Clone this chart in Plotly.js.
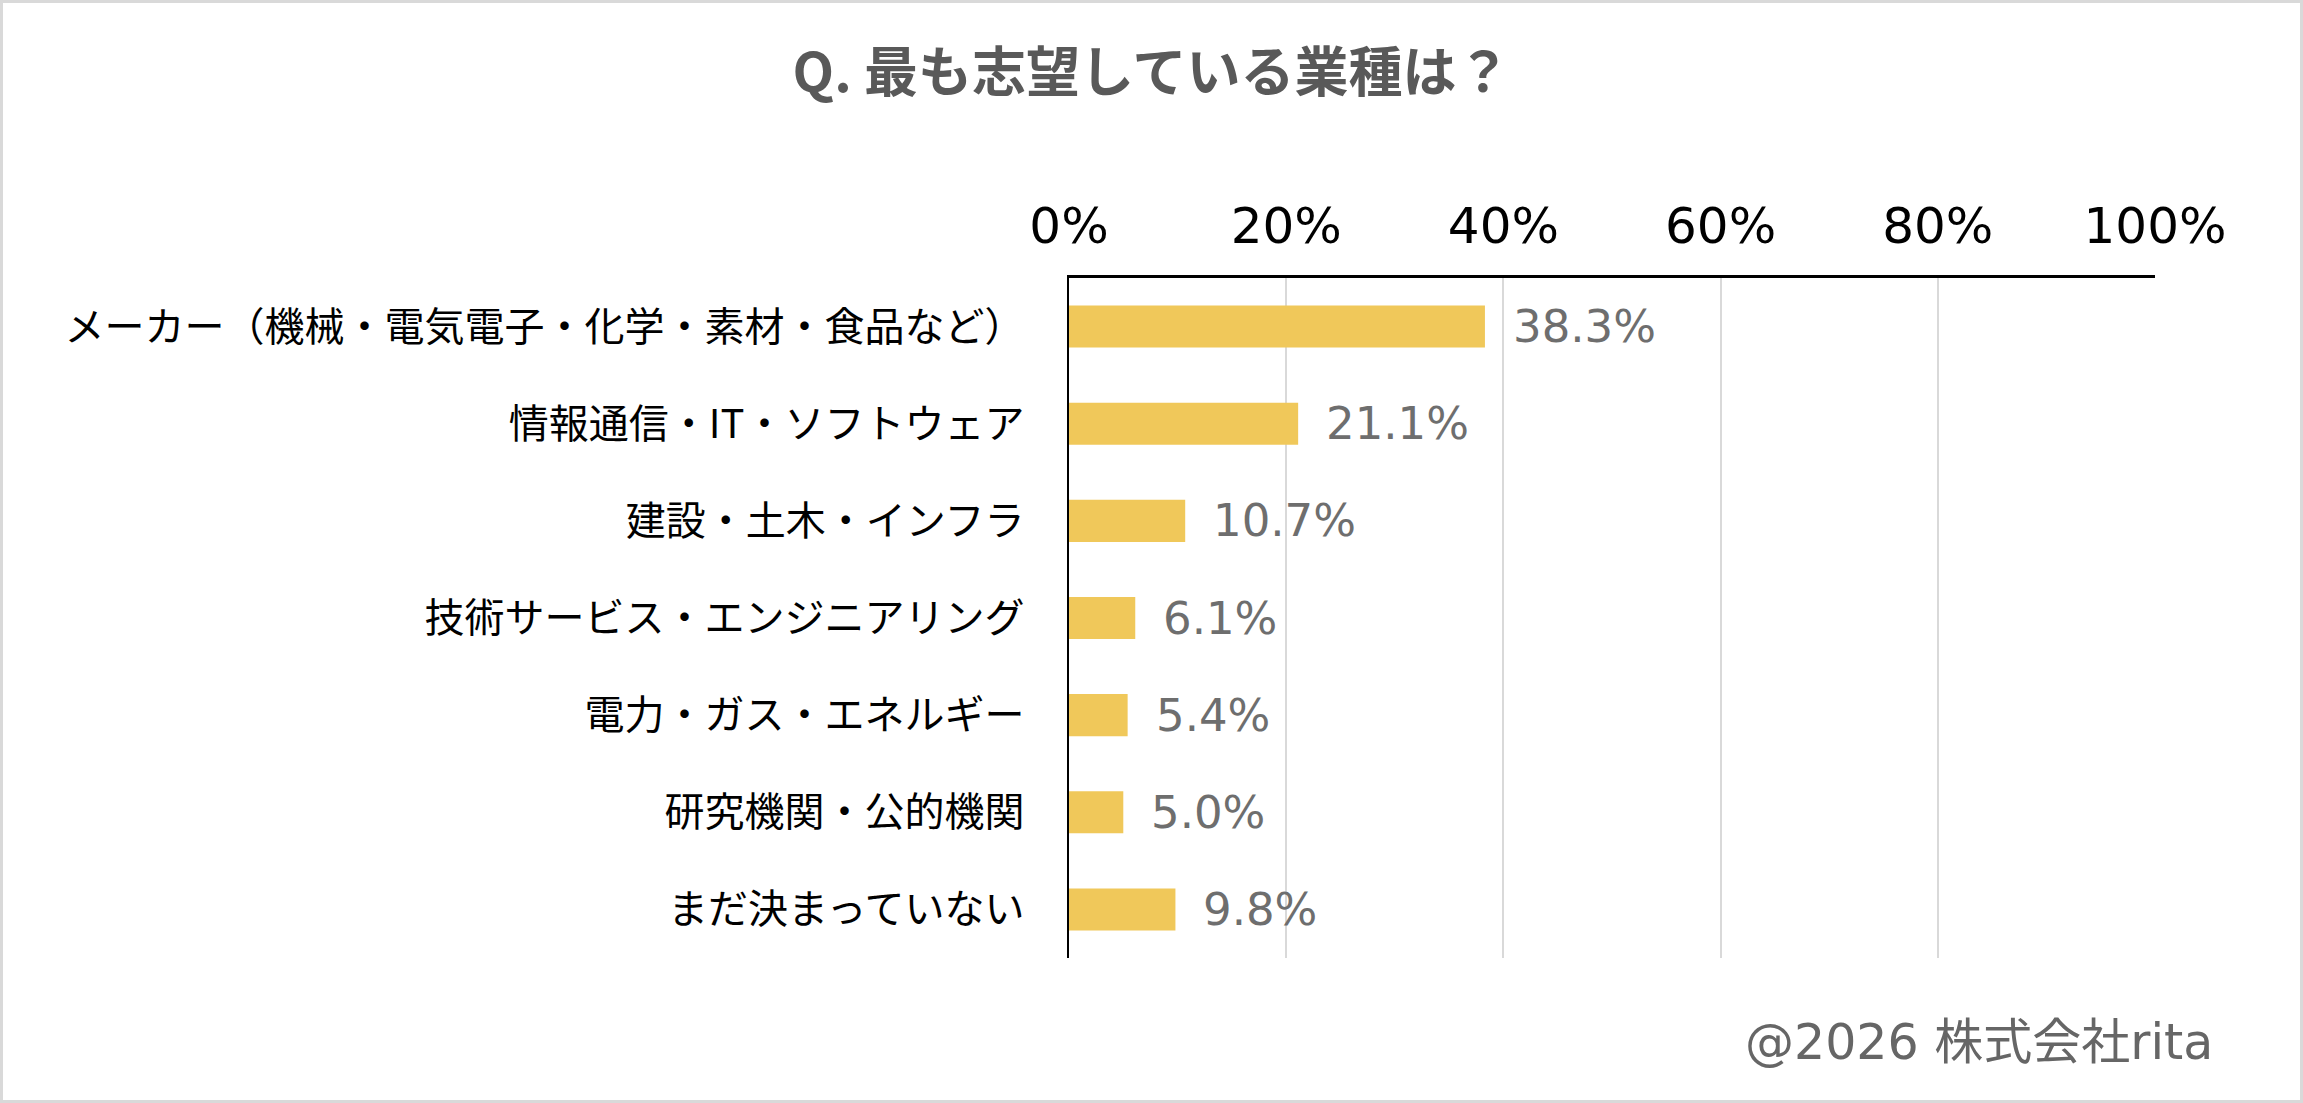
<!DOCTYPE html>
<html>
<head>
<meta charset="utf-8">
<script src="https://cdn.plot.ly/plotly-3.0.1.min.js"></script>
<style>
  html, body { margin: 0; padding: 0; background: #ffffff; }
  #chart { width: 2297px; height: 1097px; border: 3px solid #d9d9d9; background: #ffffff; }
</style>
</head>
<body>
<div id="chart"></div>
<script>
// data
var categories = ['メーカー（機械・電気電子・化学・素材・食品など）', '情報通信・IT・ソフトウェア', '建設・土木・インフラ',
                  '技術サービス・エンジニアリング', '電力・ガス・エネルギー', '研究機関・公的機関', 'まだ決まっていない'];
var shares = [38.3, 21.1, 10.7, 6.1, 5.4, 5.0, 9.8];
var tickValues = [0, 20, 40, 60, 80, 100];
var tickLabels = ['0%', '20%', '40%', '60%', '80%', '100%'];

var jpFont = '"Noto Sans CJK JP", "Noto Sans", sans-serif';
var numFont = '"DejaVu Sans", "Noto Sans CJK JP", sans-serif';

var bars = {
    type: 'bar',
    orientation: 'h',
    x: shares,
    y: categories,
    marker: {color: '#f0c85a'},
    hoverinfo: 'none'
};

// value labels right of each bar
var valueLabels = shares.map(function (v, i) {
    return {
        x: v, y: categories[i], xref: 'x', yref: 'y',
        text: v.toFixed(1) + '%',
        showarrow: false, xanchor: 'left', xshift: 26,
        font: {family: numFont, size: 45, color: '#6e6e6e'}
    };
});

valueLabels.push({
    xref: 'paper', yref: 'paper', x: 1, y: 0,
    xanchor: 'right', yanchor: 'middle', xshift: 60, yshift: -84,
    text: '@2026 株式会社rita', showarrow: false,
    font: {family: numFont, size: 49, color: '#666666'}
});

var layout = {
    width: 2297,
    height: 1097,
    margin: {l: 1066, r: 145, t: 275, b: 142},
    paper_bgcolor: '#ffffff',
    plot_bgcolor: '#ffffff',
    showlegend: false,
    bargap: 0.567,
    title: {
        text: '<b>Q. 最も志望している業種は？</b>',
        x: 0.5, xref: 'container', xanchor: 'center',
        y: 1 - 70 / 1097, yref: 'container', yanchor: 'middle',
        font: {family: jpFont, size: 54, color: '#595959'}
    },
    xaxis: {
        side: 'top',
        range: [0, 100],
        tickvals: tickValues,
        ticktext: tickLabels,
        ticks: '',
        ticklabelstandoff: 12,
        tickfont: {family: numFont, size: 50, color: '#000000'},
        showgrid: true,
        gridcolor: '#d9d9d9',
        gridwidth: 2,
        zeroline: false,
        showline: true,
        linecolor: '#000000',
        linewidth: 3,
        fixedrange: true
    },
    yaxis: {
        autorange: 'reversed',
        ticks: '',
        ticklabelstandoff: 34,
        tickfont: {family: jpFont, size: 40, color: '#000000'},
        showgrid: false,
        zeroline: false,
        showline: true,
        linecolor: '#000000',
        linewidth: 2.5,
        fixedrange: true
    },
    annotations: valueLabels
};

Plotly.newPlot('chart', [bars], layout, {displayModeBar: false, staticPlot: true});
</script>
</body>
</html>
